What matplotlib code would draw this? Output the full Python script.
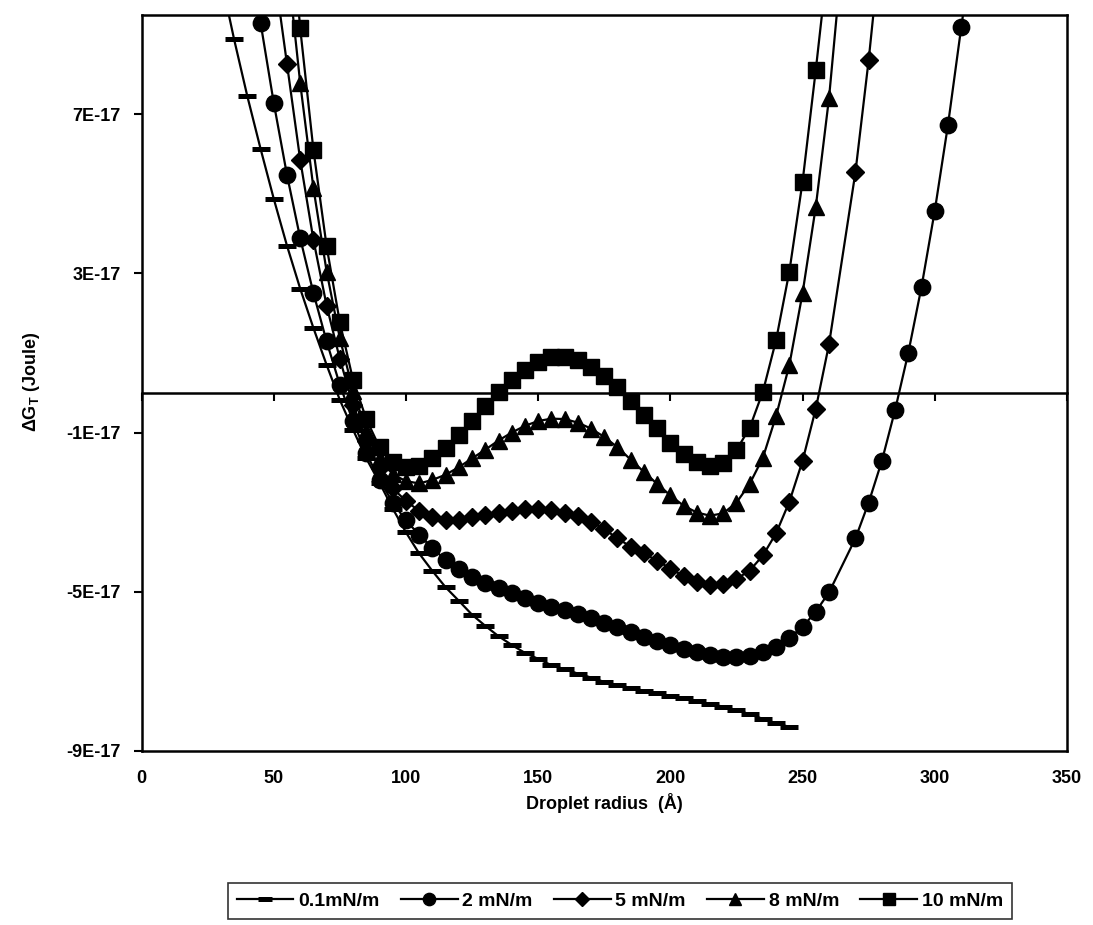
import numpy as np
import matplotlib
matplotlib.use('Agg')
import matplotlib.pyplot as plt
from matplotlib.ticker import FuncFormatter

plt.rcParams['font.family'] = 'Liberation Sans'
plt.rcParams['font.weight'] = 'bold'
plt.rcParams['mathtext.fontset'] = 'custom'
plt.rcParams['mathtext.rm'] = 'Liberation Sans'

# values are in units of 1E-17 Joule
x_01 = [30, 35, 40, 45, 50, 55, 60, 65, 70, 75, 80, 85, 90, 95, 100, 105, 110, 115, 120, 125,
        130, 135, 140, 145, 150, 155, 160, 165, 170, 175, 180, 185, 190, 195, 200, 205, 210,
        215, 220, 225, 230, 235, 240, 245]
g_01 = [10.44, 8.89, 7.46, 6.14, 4.88, 3.70, 2.62, 1.63, 0.70, -0.18, -0.93, -1.65, -2.26,
        -2.91, -3.51, -4.04, -4.48, -4.89, -5.23, -5.58, -5.86, -6.12, -6.34, -6.54, -6.69,
        -6.85, -6.95, -7.06, -7.16, -7.27, -7.35, -7.42, -7.49, -7.56, -7.62, -7.68, -7.75,
        -7.83, -7.89, -7.98, -8.08, -8.20, -8.31, -8.40]

x_2 = [40, 45, 50, 55, 60, 65, 70, 75, 80, 85, 90, 95, 100, 105, 110, 115, 120, 125, 130,
       135, 140, 145, 150, 155, 160, 165, 170, 175, 180, 185, 190, 195, 200, 205, 210, 215,
       220, 225, 230, 235, 240, 245, 250, 255, 260, 270, 275, 280, 285, 290, 295, 300, 305,
       310, 315]
g_2 = [11.5, 9.31, 7.29, 5.48, 3.89, 2.51, 1.29, 0.20, -0.72, -1.52, -2.19, -2.76, -3.21,
       -3.57, -3.91, -4.20, -4.44, -4.64, -4.79, -4.92, -5.04, -5.17, -5.28, -5.38, -5.46,
       -5.56, -5.67, -5.80, -5.90, -6.01, -6.13, -6.23, -6.34, -6.44, -6.53, -6.59, -6.65,
       -6.65, -6.61, -6.53, -6.39, -6.16, -5.89, -5.50, -5.02, -3.66, -2.76, -1.71, -0.43,
       1.01, 2.67, 4.58, 6.74, 9.19, 11.5]

x_5 = [50, 55, 60, 65, 70, 75, 80, 85, 90, 95, 100, 105, 110, 115, 120, 125, 130, 135, 140,
       145, 150, 155, 160, 165, 170, 175, 180, 185, 190, 195, 200, 205, 210, 215, 220, 225,
       230, 235, 240, 245, 250, 255, 260, 270, 275, 280]
g_5 = [10.7, 8.27, 5.86, 3.85, 2.19, 0.85, -0.30, -1.20, -1.90, -2.40, -2.72, -2.97, -3.12,
       -3.19, -3.20, -3.13, -3.07, -3.01, -2.96, -2.93, -2.93, -2.95, -3.01, -3.11, -3.24,
       -3.43, -3.66, -3.87, -4.04, -4.22, -4.42, -4.61, -4.76, -4.84, -4.82, -4.68, -4.47,
       -4.09, -3.53, -2.74, -1.71, -0.40, 1.22, 5.55, 8.37, 11.6]

x_8 = [55, 60, 65, 70, 75, 80, 85, 90, 95, 100, 105, 110, 115, 120, 125, 130, 135, 140, 145,
       150, 155, 160, 165, 170, 175, 180, 185, 190, 195, 200, 205, 210, 215, 220, 225, 230,
       235, 240, 245, 250, 255, 260, 265]
g_8 = [10.9, 7.79, 5.15, 3.05, 1.37, 0.05, -0.95, -1.65, -2.05, -2.22, -2.28, -2.19, -2.06,
       -1.87, -1.65, -1.43, -1.20, -1.00, -0.83, -0.71, -0.65, -0.66, -0.75, -0.90, -1.11,
       -1.37, -1.68, -1.99, -2.29, -2.58, -2.84, -3.01, -3.09, -3.03, -2.76, -2.29, -1.63,
       -0.58, 0.70, 2.51, 4.68, 7.41, 11.0]

x_10 = [55, 60, 65, 70, 75, 80, 85, 90, 95, 100, 105, 110, 115, 120, 125, 130, 135, 140, 145,
        150, 155, 160, 165, 170, 175, 180, 185, 190, 195, 200, 205, 210, 215, 220, 225, 230,
        235, 240, 245, 250, 255, 260]
g_10 = [13.0, 9.17, 6.11, 3.68, 1.77, 0.32, -0.66, -1.37, -1.74, -1.87, -1.84, -1.64, -1.38,
        -1.07, -0.71, -0.33, 0.02, 0.32, 0.58, 0.78, 0.89, 0.91, 0.82, 0.66, 0.43, 0.14,
        -0.21, -0.56, -0.89, -1.25, -1.54, -1.75, -1.85, -1.77, -1.44, -0.88, 0.03, 1.33,
        3.05, 5.31, 8.12, 11.1]

labels = ['0.1mN/m', '2 mN/m', '5 mN/m', '8 mN/m', '10 mN/m']
x_ticks = [0, 50, 100, 150, 200, 250, 300, 350]
y_ticks = [-9e-17, -5e-17, -1e-17, 3e-17, 7e-17]

fig = plt.figure(figsize=(10.93, 9.25), dpi=100)
ax = fig.add_axes([0.1295, 0.1884, 0.8467, 0.7954])

lw = 1.6
h1, = ax.plot(x_01, np.array(g_01) * 1e-17, color='black', lw=lw, marker='_', ms=13, mew=3.6)
h2, = ax.plot(x_2, np.array(g_2) * 1e-17, color='black', lw=lw, marker='o', ms=11.8)
h3, = ax.plot(x_5, np.array(g_5) * 1e-17, color='black', lw=lw, marker='D', ms=9.0)
h4, = ax.plot(x_8, np.array(g_8) * 1e-17, color='black', lw=lw, marker='^', ms=12)
h5, = ax.plot(x_10, np.array(g_10) * 1e-17, color='black', lw=lw, marker='s', ms=11.3)

ax.set_xlim(0, 350)
ax.set_ylim(-9e-17, 9.5e-17)

# horizontal axis crosses at zero, labels sit at the bottom of the frame
ax.spines['bottom'].set_position(('data', 0))
ax.set_xticks(x_ticks)
ax.tick_params(axis='x', direction='out', length=6, width=1.5, labelbottom=False)
sec = ax.secondary_xaxis('bottom')
sec.set_xticks(x_ticks)
sec.tick_params(length=0, pad=14, labelsize=13)
for lab in sec.get_xticklabels():
    lab.set_fontweight('bold')
sec.spines['bottom'].set_linewidth(1.8)

ax.set_yticks(y_ticks)
ax.yaxis.set_major_formatter(FuncFormatter(lambda v, p: '%dE-17' % round(v / 1e-17)))
ax.tick_params(axis='y', direction='out', length=6, width=1.5, pad=9, labelsize=13)
for s in ax.spines.values():
    s.set_linewidth(1.8)

fig.text(0.553, 1 - 803 / 925, 'Droplet radius  (Å)', ha='center', va='center',
         fontsize=13, fontweight='bold')
fig.text(32 / 1093, 1 - 382 / 925, r'ΔG$_\mathrm{T}$ (Joule)', ha='center', va='center',
         rotation=90, fontsize=13, fontweight='bold')

leg = fig.legend([h1, h2, h3, h4, h5], labels, loc='center', bbox_to_anchor=(620 / 1093, 1 - 901 / 925),
                 ncol=5, fontsize=14, frameon=True, fancybox=False, edgecolor='black',
                 handlelength=2.9, handletextpad=0.25, columnspacing=1.1, borderpad=0.45,
                 markerscale=0.75)
leg.get_frame().set_linewidth(1.2)

plt.savefig('out.png', dpi=100)
